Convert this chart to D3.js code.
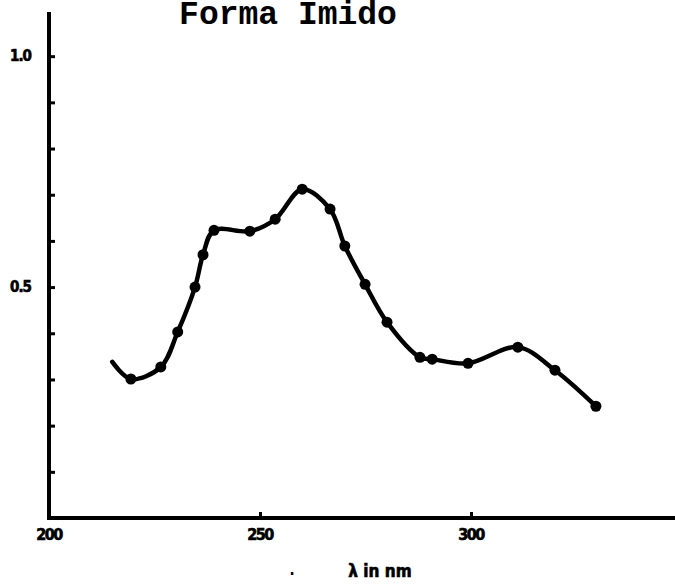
<!DOCTYPE html>
<html>
<head>
<meta charset="utf-8">
<script src="https://cdn.jsdelivr.net/npm/d3@7"></script>
<style>
  html, body { margin: 0; padding: 0; background: #fff; }
  svg { display: block; }
</style>
</head>
<body>
<svg id="chart" width="675" height="587"></svg>
<script>
// Absorption spectrum, imido form
const title = "Forma Imido";
const xLabel = "λ in nm";

// Wavelength (nm) and absorbance of the measured curve
const wavelengths = [215.0, 219.4, 226.5, 230.5, 234.6, 236.5, 239.1, 247.6, 253.6, 260.0, 266.6, 270.1, 274.9, 280.1, 287.9, 290.8, 299.3, 311.1, 319.9, 329.6];
const absorbance  = [0.338, 0.301, 0.327, 0.403, 0.500, 0.570, 0.623, 0.621, 0.647, 0.712, 0.669, 0.589, 0.506, 0.424, 0.348, 0.344, 0.335, 0.370, 0.320, 0.242];
// whether each reading carries a dot marker
const marked      = [false, true, true, true, true, true, true, true, true, true, true, true, true, true, true, true, true, true, true, true];

const xTicks = [200, 250, 300, 350];
const xTickLabels = ["200", "250", "300", ""];
const yTicks = [0.1, 0.2, 0.3, 0.4, 0.5, 0.6, 0.7, 0.8, 0.9, 1.0];
const yLabelled = { 0.5: "0.5", 1.0: "1.0" };

const svg = d3.select("#chart");

const x = d3.scaleLinear().domain([200, 350]).range([49, 682]);
const y = d3.scaleLinear().domain([0, 1.1]).range([518, 10]);

const labelFont = "'DejaVu Sans Condensed', 'DejaVu Sans', sans-serif";

// title
svg.append("text")
  .attr("x", 288).attr("y", 24)
  .attr("text-anchor", "middle")
  .attr("font-family", "'Liberation Mono', 'DejaVu Sans Mono', monospace")
  .attr("font-weight", "bold")
  .attr("font-size", 33)
  .attr("fill", "#000")
  .text(title);

// y axis
const yAxis = d3.axisRight(y)
  .tickValues(yTicks)
  .tickSize(6)
  .tickFormat(() => "");
const gy = svg.append("g").attr("transform", `translate(${x(200)},0)`).call(yAxis);
gy.select(".domain").remove();
gy.selectAll(".tick line").attr("stroke", "#000").attr("stroke-width", 3);
gy.append("line")
  .attr("x1", 0).attr("x2", 0)
  .attr("y1", 12).attr("y2", y(0) + 1)
  .attr("stroke", "#000").attr("stroke-width", 4);

// y labels (only 0.5 and 1.0 are numbered)
yTicks.filter(v => yLabelled[v]).forEach(v => {
  svg.append("text")
    .attr("x", 31).attr("y", y(v) + 5)
    .attr("text-anchor", "end")
    .attr("font-family", labelFont)
    .attr("font-weight", "bold")
    .attr("font-size", 15)
    .attr("letter-spacing", -1)
    .attr("stroke", "#000").attr("stroke-width", 0.6)
    .attr("fill", "#000")
    .text(yLabelled[v]);
});

// x axis
const xAxis = d3.axisTop(x)
  .tickValues(xTicks)
  .tickSize(6)
  .tickFormat(() => "");
const gx = svg.append("g").attr("transform", `translate(0,${y(0)})`).call(xAxis);
gx.select(".domain").remove();
gx.selectAll(".tick line").attr("stroke", "#000").attr("stroke-width", 3);
gx.append("line")
  .attr("x1", x(200) - 2).attr("x2", 675)
  .attr("y1", 0).attr("y2", 0)
  .attr("stroke", "#000").attr("stroke-width", 4);

xTicks.forEach((v, i) => {
  svg.append("text")
    .attr("x", x(v)).attr("y", 540)
    .attr("text-anchor", "middle")
    .attr("font-family", labelFont)
    .attr("font-weight", "bold")
    .attr("font-size", 16)
    .attr("letter-spacing", -1.5)
    .attr("stroke", "#000").attr("stroke-width", 0.6)
    .attr("fill", "#000")
    .text(xTickLabels[i]);
});

// x axis title
svg.append("text")
  .attr("x", 292).attr("y", 575)
  .attr("text-anchor", "middle")
  .attr("font-family", labelFont)
  .attr("font-weight", "bold")
  .attr("font-size", 15)
  .attr("fill", "#000")
  .text(".");
svg.append("text")
  .attr("x", 380).attr("y", 577)
  .attr("text-anchor", "middle")
  .attr("font-family", labelFont)
  .attr("font-weight", "bold")
  .attr("font-size", 17)
  .attr("stroke", "#000").attr("stroke-width", 0.6)
  .attr("fill", "#000")
  .text(xLabel);

// spectrum curve
const pts = wavelengths.map((w, i) => ({ w, a: absorbance[i], m: marked[i] }));
const line = d3.line()
  .x(d => x(d.w))
  .y(d => y(d.a))
  .curve(d3.curveCatmullRom.alpha(0.5));

svg.append("path")
  .datum(pts)
  .attr("d", line)
  .attr("fill", "none")
  .attr("stroke", "#000")
  .attr("stroke-width", 4.5)
  .attr("stroke-linejoin", "round")
  .attr("stroke-linecap", "round");

svg.selectAll("circle.pt")
  .data(pts.filter(d => d.m))
  .enter().append("circle")
  .attr("class", "pt")
  .attr("cx", d => x(d.w))
  .attr("cy", d => y(d.a))
  .attr("r", 5.5)
  .attr("fill", "#000");
</script>
</body>
</html>
